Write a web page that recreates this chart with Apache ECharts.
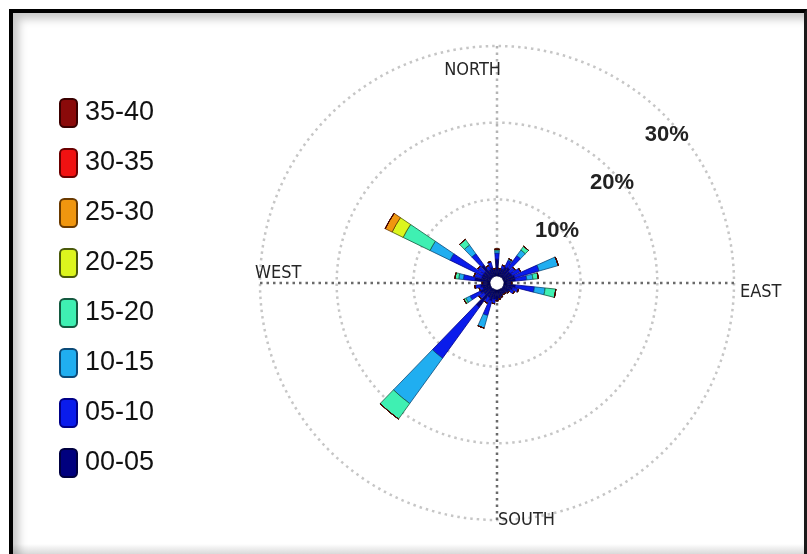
<!DOCTYPE html>
<html>
<head>
<meta charset="utf-8">
<script src="https://cdn.jsdelivr.net/npm/echarts@6/dist/echarts.min.js"></script>
<style>
  html, body { margin:0; padding:0; background:#fff; }
  #wrap { position:relative; width:807px; height:554px; overflow:hidden; background:#fff; }
  #chart { position:absolute; left:0; top:0; width:807px; height:554px; }
  #frame { position:absolute; left:9px; top:9px; width:798px; height:560px; box-sizing:border-box;
           border-left:4px solid #000; border-top:4px solid #000; border-right:3px solid #1a1a1a;
           box-shadow: inset 6px 6px 9px rgba(0,0,0,0.22); pointer-events:none; }
  #bottomband { position:absolute; left:13px; top:544px; width:791px; height:10px;
           background:linear-gradient(#fff, #d9d9d9); pointer-events:none; }
</style>
</head>
<body>
<div id="wrap">
  <div id="chart"></div>
  <div id="bottomband"></div>
  <div id="frame"></div>
</div>
<script>
// ---- data ----
var directions = ['0°','10°','20°','30°','40°','50°','60°','70°','80°','90°','100°','110°',
                  '120°','130°','140°','150°','160°','170°','180°','190°','200°','210°','220°','230°',
                  '240°','250°','260°','270°','280°','290°','300°','310°','320°','330°','340°','350°'];
var speedClasses = ['00-05','05-10','10-15','15-20','20-25','25-30','30-35','35-40'];
var ringLabels = ['10%','20%','30%'];
var compassLabels = ['NORTH','EAST','SOUTH','WEST'];

// frequency (%) per direction, per wind-speed class
var s00_05 = [2.2,1.0,1.0,1.4,1.5,1.2,1.3,1.5,1.5,1.0,1.5,1.2,1.0,1.0,0.8,0.8,1.0,1.2,1.4,1.2,1.5,1.2,3.0,1.2,1.5,1.0,1.2,1.0,2.0,1.2,1.2,1.2,2.0,1.0,1.2,1.0];
var s05_10 = [0.8,0,0.5,1.0,2.0,0.8,1.2,3.3,1.5,0,2.5,0.8,0.6,0,0,0,0,0,0,0.6,2.0,0.8,8.2,0.8,1.5,0.5,0.8,0,1.5,1.0,4.7,1.0,1.8,0.6,0.8,0];
var s10_15 = [0.3,0,0,0.2,0.9,0,0,2.6,0.8,0,1.4,0,0,0,0,0,0,0,0,0,1.7,0,7.3,0,0.6,0,0,0,0.6,0,2.9,0,1.4,0,0,0];
var s15_20 = [0.2,0,0,0,0.6,0,0,0,0.7,0,1.4,0,0,0,0,0,0,0,0,0,0,0,2.5,0,0.3,0,0,0,0.5,0,3.9,0,0.9,0,0,0];
var s20_25 = [0,0,0,0,0,0,0,0,0,0,0,0,0,0,0,0,0,0,0,0,0,0,0,0,0,0,0,0,0,0,1.6,0,0,0,0,0];
var s25_30 = [0,0,0,0,0,0,0,0,0,0,0,0,0,0,0,0,0,0,0,0,0,0,0,0,0,0,0,0,0,0,1.0,0,0,0,0,0];
var s30_35 = [0,0,0,0,0,0,0,0,0,0,0,0,0,0,0,0,0,0,0,0,0,0,0,0,0,0,0,0,0,0,0,0,0,0,0,0];
var s35_40 = [0,0,0,0,0,0,0,0,0,0,0,0,0,0,0,0,0,0,0,0,0,0,0,0,0,0,0,0,0,0,0,0,0,0,0,0];

var classData = [s00_05, s05_10, s10_15, s15_20, s20_25, s25_30, s30_35, s35_40];
var fillColors = ['#00007e','#0a1ceb','#20aef0','#3ff0b2','#dcf51e','#f0960f','#f01212','#8a0a0a'];
var edgeColors = ['#000040','#000088','#0b4a78','#145a40','#4a5a0a','#6a3a00','#6a0000','#3a0000'];

var CX = 497, CY = 283;

var series = speedClasses.map(function (name, i) {
  return {
    name: name,
    type: 'bar',
    coordinateSystem: 'polar',
    polarIndex: 0,
    stack: 'wind',
    barCategoryGap: '18%',
    data: classData[i],
    itemStyle: { color: fillColors[i], borderColor: edgeColors[i], borderWidth: 0.8 },
    emphasis: { disabled: true }
  };
});

var chart = echarts.init(document.getElementById('chart'), null, { renderer: 'canvas' });
chart.setOption({
  backgroundColor: 'transparent',
  animation: false,
  legend: {
    orient: 'vertical',
    left: 59,
    top: 98,
    padding: 0,
    itemWidth: 17,
    itemHeight: 28,
    itemGap: 20,
    icon: 'roundRect',
    data: speedClasses.slice().reverse(),
    itemStyle: { borderWidth: 2 },
    selectedMode: false,
    textStyle: { fontSize: 27, color: '#111', fontFamily: 'Liberation Sans, Arial, sans-serif', lineHeight: 28, padding: [0,0,0,3] }
  },
  polar: [
    { center: [CX, CY], radius: [7, 237] },
    { center: [CX, CY], radius: [7, 237] },
    { center: [CX, CY], radius: [7, 225] }
  ],
  angleAxis: [
    { polarIndex: 0, type: 'category', data: directions, startAngle: 95, clockwise: true,
      axisLine: { show: false }, axisTick: { show: false }, axisLabel: { show: false }, splitLine: { show: false } },
    { polarIndex: 1, type: 'value', min: 0, max: 360, interval: 90, startAngle: 90,
      axisLine: { show: false }, axisTick: { show: false }, axisLabel: { show: false },
      splitLine: { show: true, lineStyle: { color: ['#b4b4b4','#6a6a6a','#6a6a6a','#6a6a6a'], width: 2.5, type: [2.5, 4] } } },
    { polarIndex: 2, type: 'value', min: 0, max: 360, startAngle: 41, show: false }
  ],
  radiusAxis: [
    { polarIndex: 0, type: 'value', min: 0, max: 30, interval: 10,
      axisLine: { show: false }, axisTick: { show: false }, axisLabel: { show: false },
      splitLine: { show: true, lineStyle: { color: '#c6c6c6', width: 2.5, type: [2.5, 4] } } },
    { polarIndex: 1, type: 'value', min: 0, max: 30, show: false },
    { polarIndex: 2, type: 'value', min: 0, max: 30, interval: 10,
      axisLine: { show: false }, axisTick: { show: false }, splitLine: { show: false },
      axisLabel: {
        show: true, margin: 0, align: 'center', verticalAlign: 'middle', showMinLabel: false,
        fontSize: 22, fontWeight: 'bold', color: '#222', fontFamily: 'Liberation Sans, Arial, sans-serif',
        formatter: function (v) { return v > 0 ? ringLabels[Math.round(v / 10) - 1] : ''; }
      } }
  ],
  graphic: [
    { type: 'circle', shape: { cx: CX, cy: CY, r: 6 }, style: { fill: '#fff' }, z: 10, silent: true },
    { type: 'text', x: 501, y: 70, z: 5, style: { text: compassLabels[0], align: 'right', verticalAlign: 'middle', fontSize: 18, fill: '#262626', fontFamily: 'Liberation Sans Narrow, DejaVu Sans Condensed, sans-serif' } },
    { type: 'text', x: 740, y: 292, z: 5, style: { text: compassLabels[1], align: 'left', verticalAlign: 'middle', fontSize: 18, fill: '#262626', fontFamily: 'Liberation Sans Narrow, DejaVu Sans Condensed, sans-serif' } },
    { type: 'text', x: 498, y: 520, z: 5, style: { text: compassLabels[2], align: 'left', verticalAlign: 'middle', fontSize: 18, fill: '#262626', fontFamily: 'Liberation Sans Narrow, DejaVu Sans Condensed, sans-serif' } },
    { type: 'text', x: 255, y: 273, z: 5, style: { text: compassLabels[3], align: 'left', verticalAlign: 'middle', fontSize: 18, fill: '#262626', fontFamily: 'Liberation Sans Narrow, DejaVu Sans Condensed, sans-serif' } }
  ],
  series: series
});
</script>
</body>
</html>
